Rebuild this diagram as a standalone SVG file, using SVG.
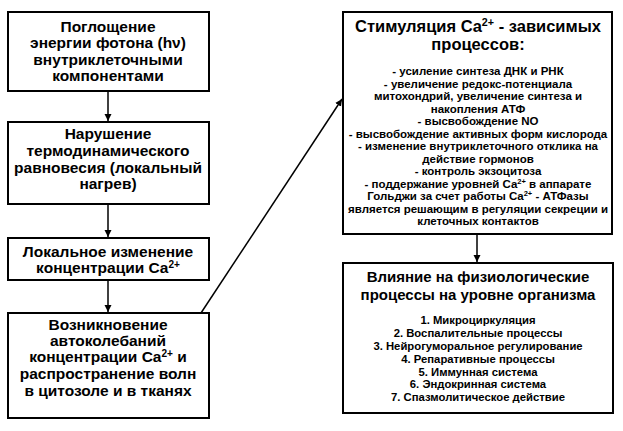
<svg xmlns="http://www.w3.org/2000/svg" width="623" height="431" viewBox="0 0 623 431">
<defs>
<marker id="ah" markerWidth="7" markerHeight="8" refX="7" refY="3.5" orient="auto" markerUnits="userSpaceOnUse">
<path d="M0,0 L7,3.5 L0,7 Z" fill="#000"/>
</marker>
<style>
.box{fill:#fff;stroke:#000;stroke-width:2}
text{font-family:"Liberation Sans",Arial,sans-serif;font-weight:bold;fill:#000;text-anchor:middle}
.m{font-size:15.5px}
.t{font-size:16.5px}
.t2{font-size:15px}
.s{font-size:11.5px}
.s2{font-size:11.3px}
.sup{font-size:65%}
.c{stroke:#000;stroke-width:1.5;fill:none}
</style>
</defs>
<rect width="623" height="431" fill="#fff"/>
<g id="connectors">
<line class="c" x1="108" y1="91" x2="108" y2="121" marker-end="url(#ah)"/>
<line class="c" x1="108" y1="204" x2="108" y2="237" marker-end="url(#ah)"/>
<line class="c" x1="108" y1="280" x2="108" y2="312" marker-end="url(#ah)"/>
<line class="c" x1="201" y1="313" x2="342" y2="99" marker-end="url(#ah)"/>
<line class="c" x1="477" y1="234" x2="477" y2="262" marker-end="url(#ah)"/>
</g>
<g id="n1">
<rect class="box" x="8" y="12" width="201" height="79"/>
<text class="m"><tspan x="108" y="32">Поглощение</tspan><tspan x="108" y="48">энергии фотона (hν)</tspan><tspan x="108" y="65">внутриклеточными</tspan><tspan x="108" y="81">компонентами</tspan></text>
</g>
<g id="n2">
<rect class="box" x="8" y="122" width="201" height="82"/>
<text class="m"><tspan x="108" y="139">Нарушение</tspan><tspan x="108" y="156">термодинамического</tspan><tspan x="108" y="173">равновесия (локальный</tspan><tspan x="108" y="189">нагрев)</tspan></text>
</g>
<g id="n3">
<rect class="box" x="8" y="238" width="201" height="42"/>
<text class="m"><tspan x="108" y="257">Локальное изменение</tspan><tspan x="108" y="273">концентрации Ca<tspan class="sup" baseline-shift="super">2+</tspan></tspan></text>
</g>
<g id="n4">
<rect class="box" x="8" y="313" width="201" height="105"/>
<text class="m"><tspan x="108" y="330">Возникновение</tspan><tspan x="108" y="346">автоколебаний</tspan><tspan x="108" y="362">концентрации Ca<tspan class="sup" baseline-shift="super">2+</tspan> и</tspan><tspan x="108" y="379">распространение волн</tspan><tspan x="108" y="396">в цитозоле и в тканях</tspan></text>
</g>
<g id="n5">
<rect class="box" x="343" y="12" width="269" height="222"/>
<text class="t"><tspan x="478" y="32">Стимуляция Ca<tspan class="sup" baseline-shift="super">2+</tspan> - зависимых</tspan><tspan x="478" y="50">процессов:</tspan></text>
<text class="s"><tspan x="478" y="75">- усиление синтеза ДНК и РНК</tspan><tspan x="478" y="87.5">- увеличение редокс-потенциала</tspan><tspan x="478" y="100">митохондрий, увеличение синтеза и</tspan><tspan x="478" y="112.5">накопления АТФ</tspan><tspan x="478" y="125">- высвобождение NO</tspan><tspan x="478" y="137.5">- высвобождение активных форм кислорода</tspan><tspan x="478" y="150">- изменение внутриклеточного отклика на</tspan><tspan x="478" y="162.5">действие гормонов</tspan><tspan x="478" y="175">- контроль экзоцитоза</tspan><tspan x="478" y="187.5">- поддержание уровней Ca<tspan class="sup" baseline-shift="super">2+</tspan> в аппарате</tspan><tspan x="478" y="200">Гольджи за счет работы Ca<tspan class="sup" baseline-shift="super">2+</tspan> - АТФазы</tspan><tspan x="478" y="212.5">является решающим в регуляции секреции и</tspan><tspan x="478" y="225">клеточных контактов</tspan></text>
</g>
<g id="n6">
<rect class="box" x="343" y="263" width="270" height="150"/>
<text class="t2"><tspan x="478" y="282">Влияние на физиологические</tspan><tspan x="478" y="300">процессы на уровне организма</tspan></text>
<text class="s2"><tspan x="478" y="324">1. Микроциркуляция</tspan><tspan x="478" y="337">2. Воспалительные процессы</tspan><tspan x="478" y="350">3. Нейрогуморальное регулирование</tspan><tspan x="478" y="362.5">4. Репаративные процессы</tspan><tspan x="478" y="375.5">5. Иммунная система</tspan><tspan x="478" y="388">6. Эндокринная система</tspan><tspan x="478" y="400.5">7. Спазмолитическое действие</tspan></text>
</g>
</svg>
